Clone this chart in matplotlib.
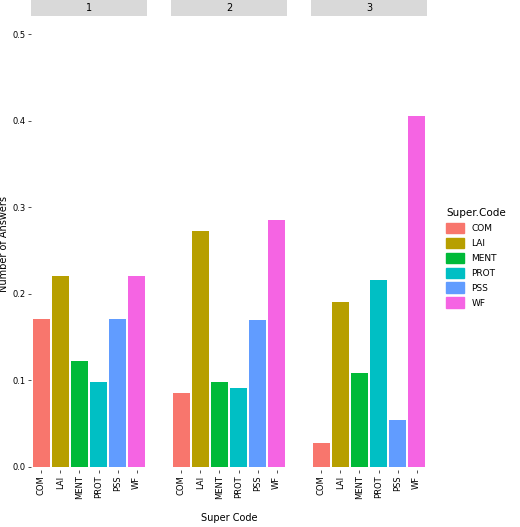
import matplotlib
matplotlib.use("Agg")
import matplotlib.pyplot as plt

codes = ["COM", "LAI", "MENT", "PROT", "PSS", "WF"]
panels = ["1", "2", "3"]
values = {
    "1": [0.171, 0.220, 0.122, 0.098, 0.171, 0.220],
    "2": [0.085, 0.273, 0.098, 0.091, 0.170, 0.285],
    "3": [0.027, 0.190, 0.108, 0.216, 0.054, 0.405],
}
colors = ["#F8766D", "#B79F00", "#00BA38", "#00BFC4", "#619CFF", "#F564E3"]

fig = plt.figure(figsize=(5.2, 5.27), dpi=100)
W, H = 520, 527
left0, pw, gap = 31, 116, 24
top, bottom = 17, 470
for i, p in enumerate(panels):
    x0 = left0 + i * (pw + gap)
    ax = fig.add_axes([x0 / W, (H - bottom) / H, pw / W, (bottom - top) / H])
    ax.bar(range(6), values[p], color=colors, width=0.9)
    ax.set_xlim(-0.55, 5.55)
    ax.set_ylim(-0.004, 0.52)
    for s in ax.spines.values():
        s.set_visible(False)
    ax.set_xticks(range(6))
    ax.set_xticklabels(codes, rotation=90, fontsize=6)
    ax.tick_params(length=2, width=0.6, color="#333333", pad=2)
    if i == 0:
        ax.set_yticks([0, 0.1, 0.2, 0.3, 0.4, 0.5])
        ax.set_yticklabels(["0.0", "0.1", "0.2", "0.3", "0.4", "0.5"], fontsize=6)
        ax.set_ylabel("Number of Answers", fontsize=7, labelpad=2)
    else:
        ax.set_yticks([])
    sax = fig.add_axes([x0 / W, (H - 16) / H, pw / W, 16 / H])
    sax.set_facecolor("#D9D9D9")
    sax.set_xticks([]); sax.set_yticks([])
    for s in sax.spines.values():
        s.set_visible(False)
    sax.text(0.5, 0.5, p, ha="center", va="center", fontsize=7, transform=sax.transAxes)

fig.text((left0 + (3 * pw + 2 * gap) / 2) / W, 4 / H, "Super Code", ha="center", va="bottom", fontsize=7)

from matplotlib.patches import Patch
handles = [Patch(color=c, label=l) for c, l in zip(colors, codes)]
fig.legend(handles=handles, title="Super.Code", loc="center left",
           bbox_to_anchor=(438 / W, (H - 258) / H), frameon=False, fontsize=6.5,
           title_fontsize=7.5, handlelength=2.0, handleheight=1.4, alignment="left")

fig.savefig("out.png", dpi=100)
